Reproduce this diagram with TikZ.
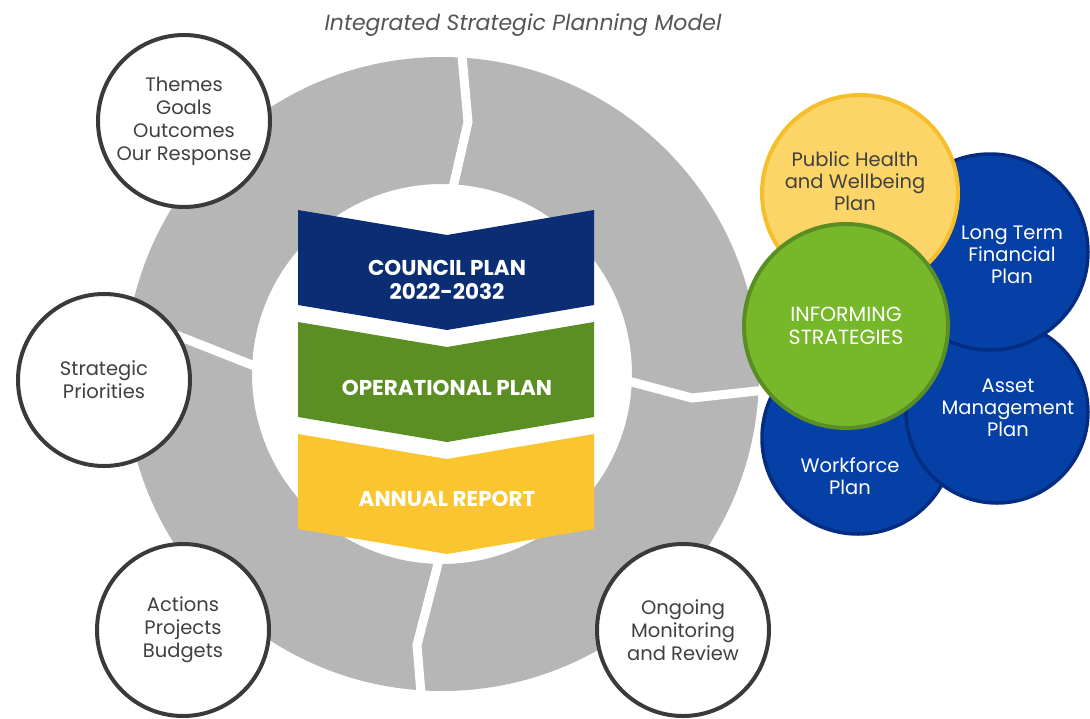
\documentclass[tikz,border=0pt]{standalone}
\usepackage{fontspec}
\setmainfont{Poppins}
\definecolor{ringgray}{HTML}{B6B6B6}
\definecolor{edgegray}{HTML}{3A3A3A}
\definecolor{txtgray}{HTML}{404040}
\definecolor{titlegray}{HTML}{555555}
\definecolor{councilblue}{HTML}{0A2D74}
\definecolor{opgreen}{HTML}{5B8E23}
\definecolor{reportyellow}{HTML}{FBC52F}
\definecolor{planblue}{HTML}{0540A6}
\definecolor{plannavy}{HTML}{042D82}
\definecolor{healthfill}{HTML}{FCD568}
\definecolor{healthedge}{HTML}{F7BE2C}
\definecolor{informfill}{HTML}{76B82A}
\definecolor{informedge}{HTML}{5A8E24}
\begin{document}
\begin{tikzpicture}[x=1pt, y=-1pt, font=\fontsize{19.5}{23}\selectfont,
 stage/.style={circle,draw=edgegray,line width=4pt,fill=white,minimum size=172pt,inner sep=0pt,align=center,text=txtgray},
 plan/.style={circle,draw=plannavy,line width=3.5pt,fill=planblue,inner sep=0pt},
 lbl/.style={align=center,text=white,font=\fontsize{19.5}{22}\selectfont},
 banner/.style={align=center,text=white,font=\fontsize{21.5}{24}\selectfont\bfseries},
 gap/.style={white,line width=9pt}]
\useasboundingbox (0,0) rectangle (1090,718);

% title
\node[font=\fontsize{22}{26}\selectfont\itshape,text=titlegray] (title) at (523,25) {Integrated Strategic Planning Model};

% cycle ring with its four cuts
\fill[ringgray,even odd rule] (442,374) circle[radius=317] (442,374) circle[radius=190];
\draw[gap] (461,45) -- (468,122) -- (452,192);
\draw[gap] (628,381) -- (692,398) -- (775,389);
\draw[gap] (440,556) -- (417,645) -- (422,705);
\draw[gap] (176,335) -- (262,369);

% stacked plans
\fill[councilblue] (298,210) -- (447,235) -- (594,210) -- (594,305) -- (447,330) -- (298,305) -- cycle;
\fill[opgreen] (298,322) -- (447,347) -- (594,322) -- (594,417) -- (447,442) -- (298,417) -- cycle;
\fill[reportyellow] (298,434) -- (447,459) -- (594,434) -- (594,529) -- (447,554) -- (298,529) -- cycle;
\node[banner] (council) at (447,280) {COUNCIL PLAN\\2022-2032};
\node[banner] (operational) at (447,388) {OPERATIONAL PLAN};
\node[banner] (annual) at (447,499) {ANNUAL REPORT};

% stages round the ring
\node[stage] (themes) at (184,121) {Themes\\Goals\\Outcomes\\Our Response};
\node[stage] (priorities) at (104,380) {Strategic\\Priorities};
\node[stage] (actions) at (183,630) {Actions\\Projects\\Budgets};
\node[stage] (monitoring) at (683,630) {Ongoing\\Monitoring\\and Review};

% informing strategies cluster
\node[plan,minimum size=192pt] (workforce) at (858,438) {};
\node[lbl] (workforcetxt) at (850,476) {Workforce\\Plan};
\node[plan,minimum size=182pt] (asset) at (997,412) {};
\node[lbl] (assettxt) at (1008,408) {Asset\\Management\\Plan};
\node[plan,minimum size=196pt] (longterm) at (990,252) {};
\node[lbl] (longtermtxt) at (1012,255) {Long Term\\Financial\\Plan};
\node[circle,draw=healthedge,line width=4pt,fill=healthfill,minimum size=196pt] (health) at (860,193) {};
\node[lbl,text=txtgray] (healthtxt) at (855,181) {Public Health\\and Wellbeing\\Plan};
\node[circle,draw=informedge,line width=4pt,fill=informfill,minimum size=204pt,lbl,font=\fontsize{20.5}{23}\selectfont] (informing) at (846,326) {INFORMING\\STRATEGIES};
\end{tikzpicture}
\end{document}
